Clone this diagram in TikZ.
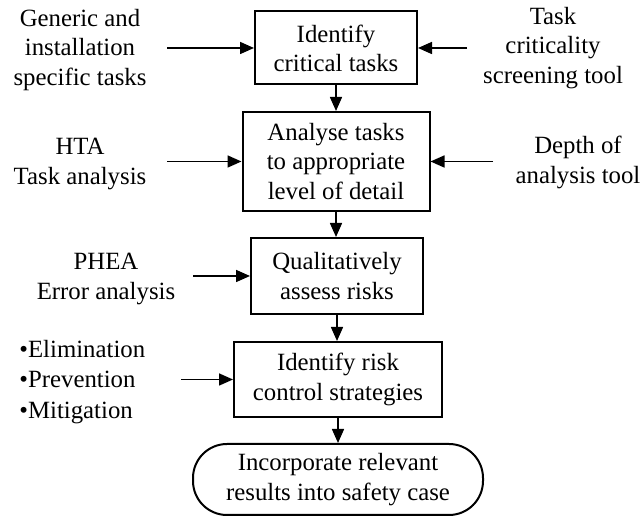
\documentclass[tikz,border=0pt]{standalone}
\usepackage{fontspec}
\setmainfont{Liberation Serif}
\usetikzlibrary{arrows.meta}
\begin{document}
\begin{tikzpicture}[x=0.5pt,y=-0.5pt,
  txt/.style={font=\fontsize{12.4}{14.6}\selectfont, align=center, inner sep=0pt},
  box/.style={txt, draw, line width=1pt},
  arr/.style={-{Triangle[length=7pt,width=6pt]}, line width=0.8pt}]
\useasboundingbox (0,0) rectangle (643,517);
% main boxes
\node[box, minimum width=81pt, minimum height=36.5pt] (b1) at (336,48) {Identify\\critical tasks};
\node[box, minimum width=93.5pt, minimum height=49.5pt] (b2) at (336,161.5) {Analyse tasks\\to appropriate\\level of detail};
\node[box, minimum width=86pt, minimum height=38pt] (b3) at (337,276) {Qualitatively\\assess risks};
\node[box, minimum width=104pt, minimum height=37.5pt] (b4) at (338,379.5) {Identify risk\\control strategies};
\node[box, minimum width=145pt, minimum height=35.5pt, rounded corners=17pt] (b5) at (338,479.5) {Incorporate relevant\\results into safety case};
% side texts
\node[txt] (t1) at (80,50) {Generic and\\installation\\specific tasks};
\node[txt] (t2) at (80,164) {HTA\\Task analysis};
\node[txt] (t3) at (106,279) {PHEA\\Error analysis};
\node[txt, align=left, anchor=west] (t4) at (19,382) {•Elimination\\[0.5pt]•Prevention\\[0.5pt]•Mitigation};
\node[txt] (t5) at (553,48) {Task\\criticality\\screening tool};
\node[txt] (t6) at (578,162.5) {Depth of\\analysis tool};
% arrow start points
\coordinate (l1) at (167,48);
\coordinate (l2) at (167,161.5);
\coordinate (l3) at (193,276);
\coordinate (l4) at (181,379.5);
\coordinate (r1) at (467,48);
\coordinate (r2) at (493,161.5);
% connectors
\draw[arr] (l1) -- (b1.west);
\draw[arr] (l2) -- (b2.west);
\draw[arr] (l3) -- (b3.west);
\draw[arr] (l4) -- (b4.west);
\draw[arr] (r1) -- (b1.east);
\draw[arr] (r2) -- (b2.east);
\draw[arr] (b1.south) -- (b1.south |- b2.north);
\draw[arr] (b2.south) -- (b2.south |- b3.north);
\draw[arr] (b3.south) -- (b3.south |- b4.north);
\draw[arr] (b4.south) -- (b4.south |- b5.north);
\end{tikzpicture}
\end{document}
